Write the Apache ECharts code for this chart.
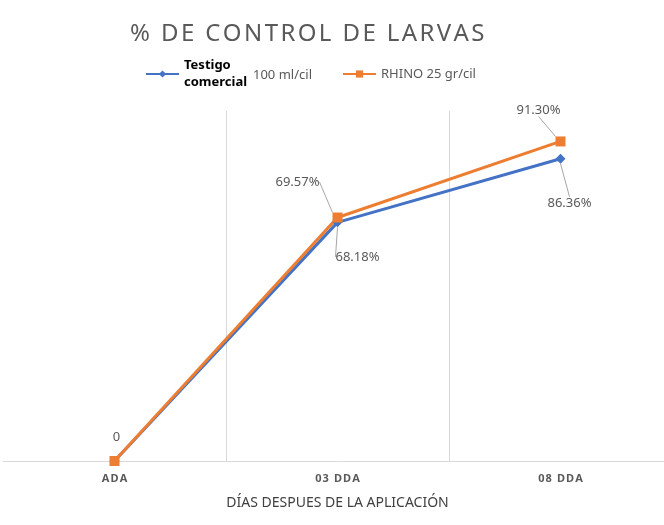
<!DOCTYPE html>
<html>
<head>
<meta charset="utf-8">
<title>% DE CONTROL DE LARVAS</title>
<script src="https://cdn.jsdelivr.net/npm/echarts@6/dist/echarts.min.js"></script>
<style>
    html, body { margin: 0; padding: 0; background: #fff; overflow: hidden; }
    #container { width: 675px; height: 525px; }
</style>
</head>
<body>
<div id="container"></div>
<script>
    // datos
    var categories = ['ADA', '03 DDA', '08 DDA'];
    var seriesNames = ['Testigo comercial 100 ml/cil', 'RHINO 25 gr/cil'];
    var testigo = [0, 68.18, 86.36];
    var rhino = [0, 69.57, 91.30];

    var colors = {
        blue: '#4472C4',
        orange: '#ED7D31',
        grey: '#595959',
        gridLine: '#d9d9d9',
        leader: '#a6a6a6'
    };

    // desplazamiento de las etiquetas respecto a su posicion 'top'
    var labelOffsets = [
        [[0, 0], [20, 51], [9, 61]],
        [[2, -7], [-40, -19], [-22, -15]]
    ];

    var fmtPct = function(p) {
        return p.value === 0 ? '0' : p.value.toFixed(2) + '%';
    };

    var spaced = function(s) {
        return s.split('').join('\u200A');
    };

    var dom = document.getElementById('container');
    var myChart = echarts.init(dom, null, { renderer: 'canvas' });

    var option = {
        backgroundColor: '#fff',
        animation: false,
        title: {
            text: spaced('% DE CONTROL DE LARVAS'),
            left: 125,
            top: 17,
            textStyle: {
                color: colors.grey,
                fontSize: 24,
                fontWeight: 'normal',
                fontFamily: 'Noto Sans'
            }
        },
        legend: {
            left: 145,
            top: 59,
            padding: 0,
            itemWidth: 33,
            itemHeight: 9,
            itemGap: 6,
            data: seriesNames,
            formatter: function(name) {
                if (name === seriesNames[0]) {
                    return '{b|Testigo}\n{b|comercial}';
                }
                return '{g|' + name + '}';
            },
            textStyle: {
                rich: {
                    b: {
                        fontSize: 13,
                        fontWeight: 'bold',
                        color: '#000',
                        lineHeight: 17,
                        width: 152,
                        fontFamily: 'Noto Sans'
                    },
                    g: {
                        fontSize: 13,
                        color: colors.grey,
                        fontFamily: 'Noto Sans'
                    }
                }
            }
        },
        graphic: [{
            type: 'text',
            left: 253,
            top: 69,
            style: {
                text: '100 ml/cil',
                fill: colors.grey,
                fontSize: 13,
                fontFamily: 'Noto Sans'
            }
        }],
        grid: {
            left: 3,
            right: 3,
            top: 111,
            bottom: 64,
            containLabel: false
        },
        xAxis: {
            type: 'category',
            data: categories,
            boundaryGap: true,
            name: 'DÍAS DESPUES DE LA APLICACIÓN',
            nameLocation: 'middle',
            nameGap: 35,
            nameTextStyle: {
                color: '#404040',
                fontSize: 14,
                fontFamily: "'Liberation Sans Narrow', 'Noto Sans'"
            },
            axisTick: { show: false },
            axisLine: { lineStyle: { color: colors.gridLine, width: 1 } },
            splitLine: {
                show: true,
                showMinLine: false,
                showMaxLine: false,
                lineStyle: { color: colors.gridLine, width: 1 }
            },
            axisLabel: {
                margin: 12,
                color: colors.grey,
                fontSize: 11,
                fontWeight: 'bold',
                fontFamily: 'Noto Sans',
                formatter: spaced
            }
        },
        yAxis: {
            type: 'value',
            min: 0,
            max: 100,
            show: false
        },
        labelLayout: function(params) {
            var off = labelOffsets[params.seriesIndex][params.dataIndex];
            return { dx: off[0], dy: off[1] };
        },
        series: [{
            name: seriesNames[0],
            type: 'line',
            color: colors.blue,
            symbol: 'diamond',
            symbolSize: 10,
            lineStyle: { width: 3, color: colors.blue },
            itemStyle: { color: colors.blue },
            label: {
                show: true,
                position: 'top',
                color: colors.grey,
                fontSize: 13,
                fontFamily: 'Noto Sans',
                formatter: fmtPct
            },
            labelLine: {
                show: true,
                lineStyle: { color: colors.leader, width: 1 }
            },
            data: testigo.map(function(v, i) {
                return i === 0 ? { value: v, label: { show: false }, labelLine: { show: false } } : v;
            })
        }, {
            name: seriesNames[1],
            type: 'line',
            color: colors.orange,
            symbol: 'rect',
            symbolSize: 10,
            lineStyle: { width: 3, color: colors.orange },
            itemStyle: { color: colors.orange },
            label: {
                show: true,
                position: 'top',
                color: colors.grey,
                fontSize: 13,
                fontFamily: 'Noto Sans',
                formatter: fmtPct
            },
            labelLine: {
                show: true,
                lineStyle: { color: colors.leader, width: 1 }
            },
            data: rhino.map(function(v, i) {
                return i === 0 ? { value: v, labelLine: { show: false } } : v;
            })
        }]
    };

    myChart.setOption(option);

    window.addEventListener('resize', function() {
        myChart.resize();
    });
</script>
</body>
</html>
